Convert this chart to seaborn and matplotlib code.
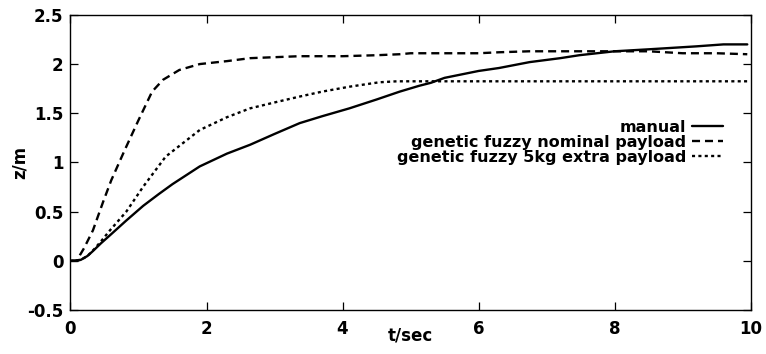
import pandas as pd
import matplotlib
matplotlib.use("Agg")
import matplotlib.pyplot as plt
import seaborn as sns

sns.set_style("ticks")
plt.rcParams["font.family"] = ["DejaVu Sans"]
plt.rcParams["font.weight"] = "bold"
for key in ["text.color", "axes.labelcolor", "xtick.color", "ytick.color", "axes.edgecolor"]:
    plt.rcParams[key] = "black"

# ---------------------------------------------------------------------------
# data (z in metres vs time in seconds)
# ---------------------------------------------------------------------------
manual_t = [0, 0.15, 0.25, 0.33, 0.45, 0.58, 0.82, 1.07, 1.3, 1.5, 1.9, 2.3,
            2.64, 3.0, 3.37, 3.7, 4.1, 4.5, 4.84, 5.13, 5.3, 5.5, 6.0, 6.3,
            6.75, 7.2, 7.48, 8.0, 8.5, 9.2, 9.6, 9.95]
manual_z = [0, 0.01, 0.05, 0.10, 0.18, 0.26, 0.41, 0.56, 0.68, 0.78, 0.96, 1.09,
            1.18, 1.29, 1.40, 1.47, 1.55, 1.64, 1.72, 1.78, 1.81, 1.86, 1.93, 1.96,
            2.02, 2.06, 2.09, 2.13, 2.15, 2.18, 2.20, 2.20]

nominal_t = [0, 0.1, 0.14, 0.2, 0.33, 0.48, 0.6, 0.8, 1.0, 1.2, 1.36, 1.6,
             1.9, 2.3, 2.64, 3.0, 3.37, 4.0, 4.5, 4.84, 5.0, 6.0, 6.3, 6.75,
             8.5, 9.0, 9.5, 9.95]
nominal_z = [0, 0.0, 0.06, 0.13, 0.31, 0.60, 0.82, 1.13, 1.43, 1.72, 1.84, 1.94,
             2.00, 2.03, 2.06, 2.07, 2.08, 2.08, 2.09, 2.10, 2.11, 2.11, 2.12, 2.13,
             2.13, 2.11, 2.11, 2.10]

extra_t = [0, 0.15, 0.25, 0.35, 0.45, 0.58, 0.82, 1.07, 1.4, 1.9, 2.3, 2.64,
           3.0, 3.37, 3.7, 4.1, 4.54, 4.8, 9.95]
extra_z = [0, 0.01, 0.05, 0.12, 0.20, 0.31, 0.50, 0.755, 1.06, 1.33, 1.46, 1.55,
           1.61, 1.67, 1.72, 1.77, 1.815, 1.825, 1.825]

labels = ["manual", "genetic fuzzy nominal payload", "genetic fuzzy 5kg extra payload"]

manual = pd.DataFrame({"t": manual_t, "z": manual_z})
nominal = pd.DataFrame({"t": nominal_t, "z": nominal_z})
extra = pd.DataFrame({"t": extra_t, "z": extra_z})

fig = plt.figure(figsize=(7.66, 3.54), dpi=100)
ax = fig.add_axes([0.092, 0.124, 0.888, 0.834])

sns.lineplot(data=manual, x="t", y="z", color="black", lw=1.7, label=labels[0], ax=ax)
sns.lineplot(data=nominal, x="t", y="z", color="black", lw=1.7,
             ls=(0, (3.4, 2.1)), label=labels[1], ax=ax)
sns.lineplot(data=extra, x="t", y="z", color="black", lw=1.7,
             ls=(0, (1.3, 1.4)), label=labels[2], ax=ax)

ax.set_xlim(0, 10)
ax.set_ylim(-0.5, 2.5)
ax.set_xticks([0, 2, 4, 6, 8, 10])
ax.set_yticks([-0.5, 0, 0.5, 1, 1.5, 2, 2.5])
ax.set_xticklabels(["0", "2", "4", "6", "8", "10"])
ax.set_yticklabels(["-0.5", "0", "0.5", "1", "1.5", "2", "2.5"])
ax.tick_params(axis="both", direction="in", length=6, width=0.9, top=True, right=True,
               labelsize=12)
ax.tick_params(axis="x", pad=7)
ax.tick_params(axis="y", pad=5)
for s in ax.spines.values():
    s.set_linewidth(1.0)

ax.set_xlabel("t/sec", fontsize=12, fontweight="bold", labelpad=-8)
ax.set_ylabel("z/m", fontsize=12, fontweight="bold", labelpad=-1)

# text right-aligned against the line samples, rows packed tight as in the original
ax.legend(loc="upper right", bbox_to_anchor=(0.96, 0.645), frameon=False,
          markerfirst=False, fontsize=11.5, handlelength=2.0, handletextpad=0.35,
          labelspacing=0.0, borderpad=0, borderaxespad=0)

plt.savefig("out.png", dpi=100)
